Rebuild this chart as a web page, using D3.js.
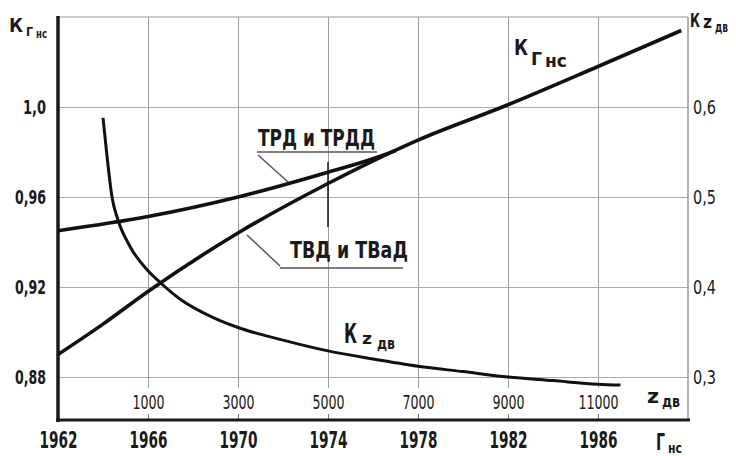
<!DOCTYPE html>
<html>
<head>
<meta charset="utf-8">
<script src="https://cdn.jsdelivr.net/npm/d3@7"></script>
<style>
	body { margin: 0; background: #fff; }
	svg text { font-family: "DejaVu Sans Condensed", "DejaVu Sans", sans-serif; fill: #1a1a1a; font-weight: bold; }
</style>
</head>
<body>
<svg id="chart" width="736" height="456"></svg>
<script>
"use strict";

// axis ticks
var years = [1962, 1966, 1970, 1974, 1978, 1982, 1986];
var zTicks = [1000, 3000, 5000, 7000, 9000, 11000];
var kTicks = [0.88, 0.92, 0.96, 1.0];
var kzTicks = [0.3, 0.4, 0.5, 0.6];

// K_Гнс for ТВД и ТВаД (lower branch, continues to top right)
var tvdYears = [1962, 1964, 1966, 1970, 1974, 1978, 1982, 1986, 1989.7];
var tvdK = [0.890, 0.9035, 0.918, 0.944, 0.966, 0.9853, 1.001, 1.018, 1.034];

// K_Гнс for ТРД и ТРДД (upper branch, joins the lower one near 1977)
var trdYears = [1962, 1966, 1970, 1974, 1976, 1977];
var trdK = [0.945, 0.9513, 0.960, 0.971, 0.977, 0.9806];

// K_zдв against z_дв (right axis)
var zValues = [0, 90, 200, 330, 600, 1000, 1270, 1700, 2450, 3000, 4000, 5000, 6000, 7000, 8000, 9000, 10000, 11000, 11500];
var kzValues = [0.588, 0.545, 0.500, 0.475, 0.445, 0.418, 0.405, 0.387, 0.366, 0.355, 0.341, 0.329, 0.320, 0.312, 0.306, 0.300, 0.296, 0.292, 0.291];

var margin = { left: 58, right: 688, top: 17, bottom: 420 };

var svg = d3.select("#chart");

var x = d3.scaleLinear().domain([1962, 1990]).range([margin.left, margin.right]);
var y = d3.scaleLinear().domain([0.88, 1.04]).range([377, margin.top]);
var yR = d3.scaleLinear().domain([0.3, 0.7]).range([377, margin.top]);
var zx = d3.scaleLinear().domain([1000, 11000]).range([x(1966), x(1986)]);

var comma = function (d, n) { return d.toFixed(n).replace(".", ","); };

// == grid ==
var gx = svg.append("g")
	.attr("transform", "translate(0,388)")
	.call(d3.axisBottom(x).tickValues(years.slice(1)).tickSize(-(388 - margin.top)).tickFormat(""));
gx.select(".domain").remove();
gx.selectAll("line").attr("stroke", "#a89a9a").attr("stroke-width", 1);

// small ticks on the bottom axis
var gt = svg.append("g")
	.attr("transform", "translate(0," + margin.bottom + ")")
	.call(d3.axisTop(x).tickValues(years.slice(1)).tickSize(6).tickFormat(""));
gt.select(".domain").remove();
gt.selectAll("line").attr("stroke", "#777");

// horizontal grid + left tick labels
var gy = svg.append("g")
	.attr("transform", "translate(" + margin.left + ",0)")
	.call(d3.axisLeft(y).tickValues(kTicks).tickSize(-(margin.right - margin.left)).tickPadding(12)
		.tickFormat(function (d) { return d === 1 ? "1,0" : comma(d, 2); }));
gy.select(".domain").remove();
gy.selectAll("line").attr("stroke", "#aaa").attr("stroke-width", 1);
gy.selectAll("text")
	.style("font-size", "20px")
	.attr("textLength", function (d) { return d === 1 ? 23 : 31; })
	.attr("lengthAdjust", "spacingAndGlyphs");

// right tick labels
var gr = svg.append("g")
	.attr("transform", "translate(" + margin.right + ",0)")
	.call(d3.axisRight(yR).tickValues(kzTicks).tickSize(0).tickPadding(5)
		.tickFormat(function (d) { return comma(d, 1); }));
gr.select(".domain").remove();
gr.selectAll("text")
	.style("font-size", "20px")
	.style("font-weight", "normal")
	.attr("textLength", 23)
	.attr("lengthAdjust", "spacingAndGlyphs");

// top border and right axis (thin)
svg.append("line").attr("x1", margin.left).attr("x2", margin.right).attr("y1", y(1.04)).attr("y2", y(1.04))
	.attr("stroke", "#999").attr("stroke-width", 1.2);
svg.append("line").attr("x1", margin.right).attr("x2", margin.right).attr("y1", margin.top).attr("y2", margin.bottom)
	.attr("stroke", "#999").attr("stroke-width", 1.5);

// thick left and bottom axes
svg.append("line").attr("x1", margin.left).attr("x2", margin.left).attr("y1", margin.top - 1).attr("y2", margin.bottom + 2)
	.attr("stroke", "#1a1a1a").attr("stroke-width", 3.5);
svg.append("line").attr("x1", margin.left - 2).attr("x2", margin.right + 2).attr("y1", margin.bottom).attr("y2", margin.bottom)
	.attr("stroke", "#1a1a1a").attr("stroke-width", 3);

// year labels
var gyr = svg.append("g")
	.attr("transform", "translate(0,432)")
	.call(d3.axisBottom(x).tickValues(years).tickSize(0).tickPadding(0).tickFormat(d3.format("d")));
gyr.select(".domain").remove();
gyr.selectAll("text")
	.style("font-size", "23px")
	.attr("textLength", 38)
	.attr("lengthAdjust", "spacingAndGlyphs");

// z_дв labels
var gz = svg.append("g")
	.attr("transform", "translate(0,395)")
	.call(d3.axisBottom(zx).tickValues(zTicks).tickSize(0).tickPadding(0).tickFormat(d3.format("d")));
gz.select(".domain").remove();
gz.selectAll("text")
	.style("font-size", "20px")
	.style("font-weight", "normal")
	.attr("textLength", function (d) { return d >= 10000 ? 40 : 32; })
	.attr("lengthAdjust", "spacingAndGlyphs");

// darker bit of the 1974 grid line
svg.append("line").attr("x1", x(1974)).attr("x2", x(1974)).attr("y1", 162).attr("y2", 227)
	.attr("stroke", "#222").attr("stroke-width", 1.6);

// == curves ==
var lineK = d3.line().curve(d3.curveMonotoneX)
	.x(function (d) { return x(d[0]); })
	.y(function (d) { return y(d[1]); });

svg.append("path")
	.datum(d3.zip(tvdYears, tvdK))
	.attr("d", lineK)
	.attr("fill", "none").attr("stroke", "#111").attr("stroke-width", 3.6);

svg.append("path")
	.datum(d3.zip(trdYears, trdK))
	.attr("d", lineK)
	.attr("fill", "none").attr("stroke", "#111").attr("stroke-width", 3.6);

var lineZ = d3.line().curve(d3.curveMonotoneX)
	.x(function (d) { return zx(d[0]); })
	.y(function (d) { return yR(d[1]); });

svg.append("path")
	.datum(d3.zip(zValues, kzValues))
	.attr("d", lineZ)
	.attr("fill", "none").attr("stroke", "#111").attr("stroke-width", 3);

// == labels ==
// one text per label, parts: [text, font size, baseline, width]
function label(x0, parts, gap) {
	var t = svg.append("text");
	var cx = x0;
	parts.forEach(function (p) {
		t.append("tspan")
			.attr("x", cx).attr("y", p[2])
			.style("font-size", p[1] + "px")
			.attr("textLength", p[3])
			.attr("lengthAdjust", "spacingAndGlyphs")
			.text(p[0]);
		cx += p[3] + (gap || 3);
	});
}

label(9, [["К", 20, 32, 14], ["Г", 13, 36, 7], ["нс", 13, 38, 11]]);
label(514, [["К", 21, 55, 14], ["Г", 17, 65, 11], ["нс", 17, 67, 22]]);
label(690, [["К", 19, 27, 10], ["z", 17, 28, 9], ["дв", 14, 32, 13]], 3);
label(344, [["К", 27, 343, 13], ["z", 15, 344, 10], ["дв", 15, 349, 18]], 5);
label(647, [["z", 19, 403, 12], ["дв", 15, 407, 18]]);
label(656, [["Г", 23, 450, 9], ["нс", 14, 453, 14]]);

label(258, [["ТРД и ТРДД", 23, 146, 117]]);
label(290, [["ТВД и ТВаД", 23, 258, 118]]);

// underlines and leader lines
var lead = [
	[[257, 152], [377, 152]],
	[[258, 155], [288, 182]],
	[[280, 268], [403, 268]],
	[[247, 235], [280, 266]]
];
lead.forEach(function (s) {
	svg.append("path")
		.attr("d", d3.line()(s))
		.attr("stroke", "#555").attr("stroke-width", 1.5).attr("fill", "none");
});
</script>
</body>
</html>
